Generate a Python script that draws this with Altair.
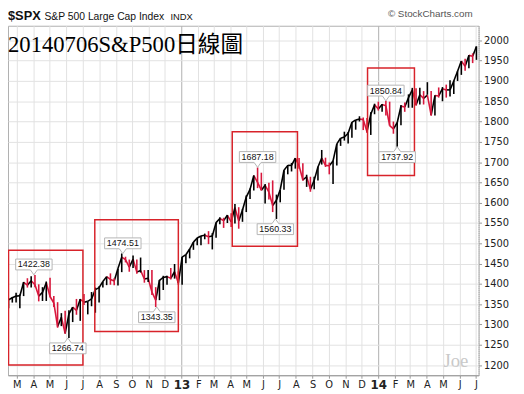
import altair as alt
import pandas as pd
from datetime import datetime, timedelta

# ---------------- data (weekly S&P 500 bars) ----------------
week_end_2012 = ["2012/02/17", "2012/02/24", "2012/03/02", "2012/03/09", "2012/03/16", "2012/03/23",
                 "2012/03/30", "2012/04/06", "2012/04/13", "2012/04/20", "2012/04/27", "2012/05/04",
                 "2012/05/11", "2012/05/18", "2012/05/25", "2012/06/01", "2012/06/08", "2012/06/15",
                 "2012/06/22", "2012/06/29", "2012/07/06", "2012/07/13", "2012/07/20", "2012/07/27",
                 "2012/08/03", "2012/08/10", "2012/08/17", "2012/08/24", "2012/08/31", "2012/09/07",
                 "2012/09/14", "2012/09/21", "2012/09/28", "2012/10/05", "2012/10/12", "2012/10/19",
                 "2012/10/26", "2012/11/02", "2012/11/09", "2012/11/16", "2012/11/23", "2012/11/30",
                 "2012/12/07", "2012/12/14", "2012/12/21", "2012/12/28"]
high_2012 = [1363, 1368, 1378, 1374, 1405, 1414, 1419, 1422, 1399, 1392, 1406, 1415, 1370, 1355, 1328, 1334,
             1335, 1343, 1363, 1363, 1375, 1356, 1380, 1391, 1394, 1406, 1418, 1426, 1414, 1438, 1475, 1467,
             1460, 1470, 1460, 1465, 1434, 1434, 1434, 1392, 1410, 1420, 1420, 1439, 1449, 1431]
low_2012 = [1340, 1354, 1354, 1340, 1370, 1391, 1391, 1392, 1357, 1358, 1358, 1367, 1343, 1292, 1296, 1277,
            1267, 1306, 1324, 1309, 1348, 1325, 1345, 1329, 1354, 1391, 1397, 1398, 1397, 1396, 1429, 1453,
            1430, 1439, 1425, 1428, 1403, 1405, 1373, 1343, 1360, 1385, 1398, 1411, 1413, 1398]
close_2012 = [1361, 1366, 1370, 1371, 1404, 1397, 1408, 1398, 1370, 1379, 1403, 1369, 1353, 1295, 1318, 1278,
              1326, 1343, 1335, 1362, 1355, 1357, 1363, 1386, 1391, 1406, 1418, 1411, 1407, 1438, 1466, 1460,
              1441, 1461, 1429, 1433, 1412, 1414, 1380, 1360, 1409, 1416, 1418, 1414, 1430, 1402]

week_end_2013 = ["2013/01/04", "2013/01/11", "2013/01/18", "2013/01/25", "2013/02/01", "2013/02/08",
                 "2013/02/15", "2013/02/22", "2013/03/01", "2013/03/08", "2013/03/15", "2013/03/22",
                 "2013/03/29", "2013/04/05", "2013/04/12", "2013/04/19", "2013/04/26", "2013/05/03",
                 "2013/05/10", "2013/05/17", "2013/05/24", "2013/05/31", "2013/06/07", "2013/06/14",
                 "2013/06/21", "2013/06/28", "2013/07/05", "2013/07/12", "2013/07/19", "2013/07/26",
                 "2013/08/02", "2013/08/09", "2013/08/16", "2013/08/23", "2013/08/30", "2013/09/06",
                 "2013/09/13", "2013/09/20", "2013/09/27", "2013/10/04", "2013/10/11", "2013/10/18",
                 "2013/10/25", "2013/11/01", "2013/11/08", "2013/11/15", "2013/11/22", "2013/11/29",
                 "2013/12/06", "2013/12/13", "2013/12/20", "2013/12/27"]
high_2013 = [1467, 1472, 1486, 1503, 1514, 1518, 1524, 1530, 1525, 1552, 1564, 1563, 1570, 1574, 1597, 1589,
             1585, 1618, 1635, 1667, 1687, 1674, 1646, 1649, 1655, 1620, 1632, 1680, 1693, 1698, 1710, 1710,
             1697, 1669, 1664, 1664, 1689, 1730, 1711, 1699, 1704, 1745, 1759, 1775, 1774, 1798, 1804, 1813,
             1810, 1809, 1823, 1844]
low_2013 = [1398, 1451, 1463, 1484, 1495, 1495, 1510, 1498, 1485, 1514, 1547, 1538, 1550, 1540, 1549, 1536,
            1553, 1577, 1609, 1630, 1636, 1630, 1598, 1608, 1577, 1560, 1601, 1632, 1670, 1677, 1684, 1684,
            1654, 1639, 1627, 1633, 1655, 1694, 1688, 1670, 1646, 1692, 1740, 1753, 1746, 1760, 1780, 1800,
            1779, 1772, 1767, 1818]
close_2013 = [1466, 1472, 1486, 1503, 1513, 1518, 1520, 1516, 1518, 1551, 1561, 1556, 1569, 1553, 1588, 1555,
              1582, 1614, 1633, 1667, 1650, 1631, 1643, 1626, 1593, 1606, 1632, 1680, 1692, 1692, 1710, 1691,
              1656, 1664, 1633, 1655, 1688, 1710, 1692, 1691, 1703, 1745, 1759, 1762, 1771, 1798, 1804, 1806,
              1805, 1775, 1818, 1841]

week_end_2014 = ["2014/01/03", "2014/01/10", "2014/01/17", "2014/01/24", "2014/01/31", "2014/02/07",
                 "2014/02/14", "2014/02/21", "2014/02/28", "2014/03/07", "2014/03/14", "2014/03/21",
                 "2014/03/28", "2014/04/04", "2014/04/11", "2014/04/18", "2014/04/25", "2014/05/02",
                 "2014/05/09", "2014/05/16", "2014/05/23", "2014/05/30", "2014/06/06", "2014/06/13",
                 "2014/06/20", "2014/06/27", "2014/07/04"]
high_2014 = [1849, 1843, 1851, 1849, 1800, 1798, 1841, 1847, 1867, 1883, 1882, 1883, 1875, 1897, 1875, 1865,
             1884, 1885, 1891, 1902, 1901, 1924, 1949, 1955, 1964, 1968, 1985]
low_2014 = [1827, 1824, 1815, 1790, 1770, 1738, 1791, 1824, 1834, 1834, 1839, 1842, 1842, 1866, 1814, 1815,
            1859, 1850, 1859, 1862, 1868, 1900, 1915, 1925, 1931, 1944, 1952]
close_2014 = [1831, 1842, 1839, 1790, 1782, 1797, 1838, 1836, 1859, 1878, 1841, 1866, 1857, 1865, 1816, 1864,
              1863, 1881, 1878, 1878, 1900, 1924, 1949, 1936, 1963, 1961, 1985]

week_end = week_end_2012 + week_end_2013 + week_end_2014
high = high_2012 + high_2013 + high_2014
low = low_2012 + low_2013 + low_2014
close = close_2012 + close_2013 + close_2014

# callout annotations
note_date = ["2012/04/02", "2012/06/04", "2012/09/14", "2012/11/16",
             "2013/05/22", "2013/06/24", "2014/01/15", "2014/02/05"]
note_value = [1422.38, 1266.74, 1474.51, 1343.35, 1687.18, 1560.33, 1850.84, 1737.92]
note_pos = ["above", "below", "above", "below", "above", "below", "above", "below"]

# red highlight boxes
box_start = ["2012/02/15", "2012/07/24", "2013/04/05", "2013/12/12"]
box_end = ["2012/07/02", "2012/12/26", "2013/08/04", "2014/03/09"]
box_low = [1200, 1283, 1493, 1667]
box_high = [1483, 1558, 1775, 1932]

# ---------------- tables ----------------
mid = [(datetime.strptime(d, "%Y/%m/%d") - timedelta(days=2)).strftime("%Y/%m/%d") for d in week_end]
direction = ["up"] + ["up" if close[i] >= close[i - 1] else "down" for i in range(1, len(close))]
bars = pd.DataFrame({"date": mid, "high": high, "low": low, "close": close, "dir": direction})
segs = pd.DataFrame({"d0": mid[:-1], "d1": mid[1:], "c0": close[:-1], "c1": close[1:],
                     "dir": direction[1:]})
notes = pd.DataFrame({"date": note_date, "value": note_value, "pos": note_pos,
                      "label": [f"{v:.2f}" for v in note_value]})
boxes = pd.DataFrame({"start": box_start, "end": box_end, "low": box_low, "high": box_high})

month_ticks = []
for y in (2012, 2013, 2014):
    for m in range(1, 13):
        if (2012, 3) <= (y, m) <= (2014, 7):
            month_ticks.append(alt.DateTime(year=y, month=m, date=1))

X_DOMAIN = [alt.DateTime(year=2012, month=2, date=14), alt.DateTime(year=2014, month=7, date=6)]
Y_DOMAIN = [1175, 2036]
is_jan = "month(datum.value) == 0"

x_axis = alt.Axis(
    values=month_ticks, title=None, grid=True,
    gridColor={"condition": {"test": is_jan, "value": "#b0b0b0"}, "value": "#e2e2e2"},
    labelExpr="month(datum.value) == 0 ? timeFormat(datum.value, '%y') : substring(timeFormat(datum.value, '%b'), 0, 1)",
    labelFontWeight={"condition": {"test": is_jan, "value": "bold"}, "value": "normal"},
    labelFontSize={"condition": {"test": is_jan, "value": 12}, "value": 10},
    labelFont="DejaVu Sans", labelColor="#222", labelFlush=False, labelOverlap=False,
    tickSize=3, tickColor="#999", domainColor="#999", labelPadding=1,
)
y_axis = alt.Axis(
    orient="right", values=list(range(1200, 2001, 50)), format="d", title=None, grid=True,
    gridColor="#e2e2e2", labelFont="DejaVu Sans", labelFontSize=10, labelColor="#222",
    tickSize=3, tickColor="#999", domainColor="#aaa", domainDash=[1, 1], labelPadding=2,
)


def X(field):
    return alt.X(f"{field}:T", scale=alt.Scale(domain=X_DOMAIN), axis=x_axis)


def Y(field):
    return alt.Y(f"{field}:Q", scale=alt.Scale(domain=Y_DOMAIN, nice=False, zero=False), axis=y_axis)


dir_color = alt.Color("dir:N", scale=alt.Scale(domain=["up", "down"], range=["#000000", "#d8173c"]),
                      legend=None)

ranges = alt.Chart(bars).mark_rule(strokeWidth=1.6).encode(
    x=X("date"), y=Y("low"), y2="high:Q", color=dir_color)

links = alt.Chart(segs).mark_rule(strokeWidth=1.6).encode(
    x=X("d0"), x2="d1:T", y=Y("c0"), y2="c1:Q", color=dir_color)

rects = alt.Chart(boxes).mark_rect(filled=False, color="#d8232a", strokeWidth=1.5).encode(
    x=X("start"), x2="end:T", y=Y("low"), y2="high:Q"
)

path_above = "M0,0 L-0.19,-0.27 L-1,-0.27 L-1,-0.865 L1,-0.865 L1,-0.27 L0.19,-0.27 Z"
path_below = "M0,0 L0.19,0.27 L1,0.27 L1,0.865 L-1,0.865 L-1,0.27 L-0.19,0.27 Z"
callouts = alt.Chart(notes).mark_point(filled=True, color="white", stroke="#b5b5b5", strokeWidth=1,
                                       opacity=1, size=1369).encode(
    x=X("date"), y=Y("value"),
    shape=alt.Shape("pos:N", scale=alt.Scale(domain=["above", "below"], range=[path_above, path_below]),
                    legend=None),
)
note_above = alt.Chart(notes).transform_filter("datum.pos == 'above'").mark_text(
    font="Liberation Sans", fontSize=9, color="#111", baseline="middle", dy=-10.5
).encode(x=X("date"), y=Y("value"), text="label:N")
note_below = alt.Chart(notes).transform_filter("datum.pos == 'below'").mark_text(
    font="Liberation Sans", fontSize=9, color="#111", baseline="middle", dy=10.5
).encode(x=X("date"), y=Y("value"), text="label:N")


def label(txt, x, y, **kw):
    return alt.Chart(pd.DataFrame({"t": [txt]})).mark_text(**kw).encode(
        x=alt.value(x), y=alt.value(y), text="t:N")


sym = label("$SPX", 0, -6, align="left", baseline="alphabetic", font="Liberation Sans",
            fontSize=13, fontWeight="bold", color="#111")
name = label("S&P 500 Large Cap Index", 37, -6, align="left", baseline="alphabetic",
             font="Liberation Sans", fontSize=10.5, color="#111")
exch = label("INDX", 165, -6, align="left", baseline="alphabetic", font="Liberation Sans",
             fontSize=9.5, color="#111")
credit = label("© StockCharts.com", 472, -9, align="right", baseline="alphabetic",
               font="Liberation Sans", fontSize=10, color="#555")
big = label("20140706S&P500日線圖", 0, 27, align="left", baseline="alphabetic",
            font="Liberation Serif, Noto Sans CJK TC", fontSize=23, color="#000")
joe = label("Joe", 455, 347, align="center", baseline="alphabetic", font="Liberation Serif",
            fontSize=19, color="#c9c9c9")

chart = alt.layer(
    links, ranges, rects, callouts, note_above, note_below, sym, name, exch, credit, big, joe
).properties(
    width=478, height=355,
    padding={"left": 0, "top": 15, "right": 38, "bottom": 15},
    autosize=alt.AutoSizeParams(type="none"),
).configure_view(stroke="#b0b0b0", strokeWidth=1)

chart.save("out.html", embed_options={"renderer": "svg", "actions": False})
